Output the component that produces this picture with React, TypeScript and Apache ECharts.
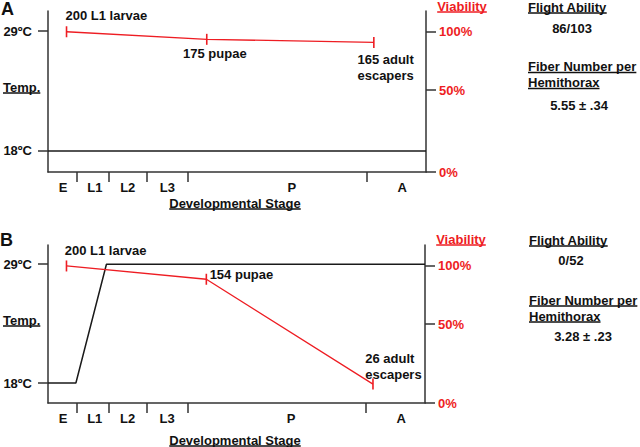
import React, { useEffect, useRef } from 'react';
import * as echarts from 'echarts';

// ---- data ----
const stageNames = ['E', 'L1', 'L2', 'L3', 'P', 'A'];
const stageLabelPos = [4.0, 12.4, 21.1, 31.6, 64.5, 93.7];
const stageBoundaries = [7.5, 16.0, 26.2, 37.0, 84.4];

const tempTicks = [18, 29];
const viabilityTickLabels = ['0%', '50%', '100%'];
const viabilityTickPosA = [0, 58.4, 100];
const viabilityTickPosB = [0, 57.5, 100];

const tempAX = [0, 100];
const tempAY = [18, 18];
const tempBX = [0, 7.4, 15.5, 100];
const tempBY = [18, 18, 29, 29];

const viabilityX = [4.9, 42.0, 86.2];
const viabilityA = [100, 94.6, 92.4];
const viabilityB = [100, 90.3, 13.8];
const pointLabelsA = ['200 L1 larvae', '175 pupae', '165 adult\nescapers'];
const pointLabelsB = ['200 L1 larvae', '154 pupae', '26 adult\nescapers'];

const flightA = '86/103';
const flightB = '0/52';
const fiberA = '5.55 ± .34';
const fiberB = '3.28 ± .23';

const RED = '#ee1d23';
const FONT = '"Liberation Sans", Arial, Helvetica, sans-serif';
const AXIS_COLOR = '#333';

function textWidth(t: string, size = 13) {
  const ctx = document.createElement('canvas').getContext('2d');
  if (!ctx) return t.length * 7;
  ctx.font = `bold ${size}px ${FONT}`;
  return ctx.measureText(t).width;
}

function txt(text: string, x: number, y: number, align: string, color = '#111', size = 13) {
  return {
    type: 'text',
    x,
    y,
    style: {
      text,
      font: `bold ${size}px ${FONT}`,
      fill: color,
      textAlign: align,
      align,
      textVerticalAlign: 'middle',
      verticalAlign: 'middle',
    },
  };
}

function uText(text: string, x: number, y: number, align: string, color = '#111') {
  const w = textWidth(text);
  const x0 = align === 'center' ? x - w / 2 : x;
  return [
    txt(text, x, y, align, color),
    {
      type: 'line',
      shape: { x1: x0, y1: y + 6, x2: x0 + w, y2: y + 6 },
      style: { stroke: color, lineWidth: 1.3 },
    },
  ];
}

function nearestStage(v: number) {
  let best = 0;
  for (let i = 0; i < stageLabelPos.length; i++) {
    if (Math.abs(stageLabelPos[i] - v) < Math.abs(stageLabelPos[best] - v)) best = i;
  }
  return stageNames[best];
}

function xAxis(gridIndex: number) {
  return {
    type: 'value',
    gridIndex,
    min: 0,
    max: 100,
    axisLine: { show: true, lineStyle: { color: AXIS_COLOR, width: 1.5 } },
    axisTick: {
      show: true,
      customValues: stageBoundaries,
      length: 10,
      lineStyle: { color: AXIS_COLOR, width: 1.5 },
    },
    axisLabel: {
      show: true,
      customValues: stageLabelPos,
      formatter: (v: number) => nearestStage(v),
      margin: 9,
      color: '#111',
      fontWeight: 'bold',
      fontSize: 13,
      fontFamily: FONT,
    },
    splitLine: { show: false },
  };
}

function tempAxis(gridIndex: number, min: number, max: number) {
  return {
    type: 'value',
    gridIndex,
    position: 'left',
    min,
    max,
    axisLine: { show: true, lineStyle: { color: AXIS_COLOR, width: 1.5 } },
    axisTick: {
      show: true,
      customValues: tempTicks,
      length: 10,
      lineStyle: { color: AXIS_COLOR, width: 1.5 },
    },
    axisLabel: {
      show: true,
      customValues: tempTicks,
      formatter: (v: number) => `${v}ºC`,
      margin: 16,
      color: '#111',
      fontWeight: 'bold',
      fontSize: 13,
      fontFamily: FONT,
    },
    splitLine: { show: false },
  };
}

function viabilityAxis(gridIndex: number, max: number, pos: number[]) {
  return {
    type: 'value',
    gridIndex,
    position: 'right',
    min: 0,
    max,
    axisLine: { show: true, lineStyle: { color: AXIS_COLOR, width: 1.5 } },
    axisTick: {
      show: true,
      customValues: pos,
      length: 10,
      lineStyle: { color: AXIS_COLOR, width: 1.5 },
    },
    axisLabel: {
      show: true,
      customValues: pos,
      formatter: (v: number) => {
        let best = 0;
        for (let i = 0; i < pos.length; i++) if (Math.abs(pos[i] - v) < Math.abs(pos[best] - v)) best = i;
        return viabilityTickLabels[best];
      },
      margin: 13,
      color: RED,
      fontWeight: 'bold',
      fontSize: 13,
      fontFamily: FONT,
    },
    splitLine: { show: false },
  };
}

const labelOffsetsA = [[-1, -16], [-23.7, 14], [-16.4, 25]];
const labelOffsetsB = [[-1.7, -15], [3.3, -5], [-7.7, -17.6]];

function viabilitySeries(xi: number, yi: number, ys: number[], labels: string[], offsets: number[][]) {
  return {
    type: 'line',
    xAxisIndex: xi,
    yAxisIndex: yi,
    symbol: 'rect',
    symbolSize: [1.6, 11],
    itemStyle: { color: RED },
    lineStyle: { color: RED, width: 1.3 },
    z: 3,
    data: ys.map((y, i) => ({
      value: [viabilityX[i], y],
      label: {
        show: true,
        position: 'inside',
        offset: offsets[i],
        align: 'left',
        verticalAlign: 'middle',
        formatter: labels[i],
        color: '#111',
        fontWeight: 'bold',
        fontSize: 13,
        fontFamily: FONT,
        lineHeight: 16,
      },
    })),
  };
}

function tempSeries(xi: number, yi: number, xs: number[], ys: number[]) {
  return {
    type: 'line',
    xAxisIndex: xi,
    yAxisIndex: yi,
    symbol: 'none',
    lineStyle: { color: '#1a1a1a', width: 1.5 },
    z: 2,
    data: xs.map((x, i) => [x, ys[i]]),
  };
}

export default function App() {
  const ref = useRef<HTMLDivElement>(null);
  useEffect(() => {
    if (!ref.current) return;
    const chart = echarts.init(ref.current, undefined, { renderer: 'svg' });
    const graphics: any[] = [
      txt('A', 1, 9, 'left', '#111', 18),
      ...uText('Temp.', 3, 87, 'left'),
      ...uText('Viability', 462, 6, 'center', RED),
      ...uText('Flight Ability', 528, 7, 'left'),
      txt(flightA, 572, 28, 'center'),
      ...uText('Fiber Number per', 528, 66.5, 'left'),
      ...uText('Hemithorax', 528, 82.5, 'left'),
      txt(fiberA, 579, 105, 'center'),
      ...uText('Developmental Stage', 235, 203, 'center'),

      txt('B', 0, 240, 'left', '#111', 18),
      ...uText('Temp.', 3, 320, 'left'),
      ...uText('Viability', 461, 239, 'center', RED),
      ...uText('Flight Ability', 529, 240, 'left'),
      txt(flightB, 571, 260.5, 'center'),
      ...uText('Fiber Number per', 529, 300, 'left'),
      ...uText('Hemithorax', 529, 316, 'left'),
      txt(fiberB, 583, 336.5, 'center'),
      ...uText('Developmental Stage', 235, 440, 'center'),
    ];
    chart.setOption({
      animation: false,
      backgroundColor: '#fff',
      grid: [
        { left: 48, top: 11, width: 378, height: 161 },
        { left: 48, top: 245, width: 377, height: 158 },
      ],
      xAxis: [xAxis(0), xAxis(1)],
      yAxis: [
        tempAxis(0, 16.07, 30.84),
        viabilityAxis(0, 114.8, viabilityTickPosA),
        tempAxis(1, 16.15, 30.78),
        viabilityAxis(1, 115.3, viabilityTickPosB),
      ],
      series: [
        tempSeries(0, 0, tempAX, tempAY),
        viabilitySeries(0, 1, viabilityA, pointLabelsA, labelOffsetsA),
        tempSeries(1, 2, tempBX, tempBY),
        viabilitySeries(1, 3, viabilityB, pointLabelsB, labelOffsetsB),
      ],
      graphic: graphics,
    });
    return () => chart.dispose();
  }, []);
  return (
    <div
      ref={ref}
      style={{ position: 'fixed', left: 0, top: 0, width: 640, height: 447, background: '#fff' }}
    />
  );
}
